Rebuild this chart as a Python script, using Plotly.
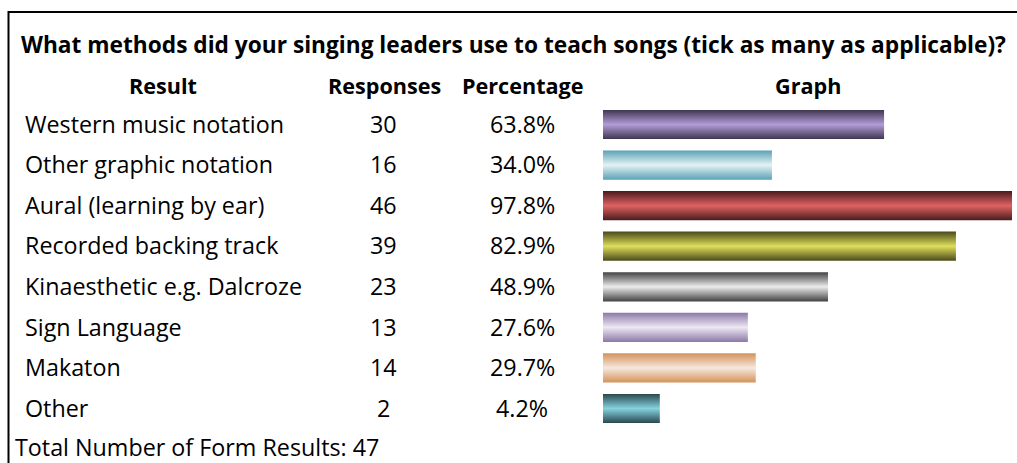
import plotly.graph_objects as go

# ---- data ----
results = ["Western music notation", "Other graphic notation", "Aural (learning by ear)",
           "Recorded backing track", "Kinaesthetic e.g. Dalcroze", "Sign Language",
           "Makaton", "Other"]
responses = [30, 16, 46, 39, 23, 13, 14, 2]
percentages = [63.8, 34.0, 97.8, 82.9, 48.9, 27.6, 29.7, 4.2]
total_results = 47
title = "What methods did your singing leaders use to teach songs (tick as many as applicable)?"
headers = ["Result", "Responses", "Percentage", "Graph"]

# ---- styles ----
W, H = 1017, 463
edge_colors = ["#3e3550", "#5aa2b3", "#4a1b1d", "#4a4a1a", "#424242", "#8c78a8", "#d59259", "#2a464e"]
mid_colors = ["#b49cd8", "#e4f2f5", "#e06262", "#dede5c", "#ececec", "#ede8f2", "#f6e7df", "#84d3de"]
BAR_BASE = -10.9      # visual offset of the bar origin
HALF = 0.36           # bar half thickness (row units)
FONT = "Open Sans"
BODY = 23.3
HEAD = 21.6
TITLE = 22.7

fig = go.Figure()
for i, (p, e, m) in enumerate(zip(percentages, edge_colors, mid_colors)):
    fig.add_trace(go.Scatter(
        x=[BAR_BASE, p, p, BAR_BASE, BAR_BASE],
        y=[i - HALF, i - HALF, i + HALF, i + HALF, i - HALF],
        mode="lines", line=dict(width=0), fill="toself",
        fillgradient=dict(type="vertical",
                          colorscale=[[0, e], [0.5, m], [1, e]]),
        hoverinfo="skip", showlegend=False))

def py(pix):
    return 1 - pix / H

def px(pix):
    return pix / W

ann = []
ann.append(dict(x=px(19), y=py(44), xref="paper", yref="paper", text="<b>%s</b>" % title,
                xanchor="left", yanchor="middle", showarrow=False,
                font=dict(family=FONT, size=TITLE, color="black")))
for h, cx in zip(headers, [163, 384, 523, 808]):
    ann.append(dict(x=px(cx), y=py(86), xref="paper", yref="paper", text="<b>%s</b>" % h,
                    xanchor="center", yanchor="middle", showarrow=False,
                    font=dict(family=FONT, size=HEAD, color="black")))
for i, (r, n, p) in enumerate(zip(results, responses, percentages)):
    ann.append(dict(x=px(23), y=i - 0.02, xref="paper", yref="y", text=r, xanchor="left",
                    yanchor="middle", showarrow=False, font=dict(family=FONT, size=BODY, color="black")))
    ann.append(dict(x=px(383), y=i - 0.02, xref="paper", yref="y", text=str(n), xanchor="center",
                    yanchor="middle", showarrow=False, font=dict(family=FONT, size=BODY, color="black")))
    ann.append(dict(x=px(522), y=i - 0.02, xref="paper", yref="y", text="%.1f%%" % p, xanchor="center",
                    yanchor="middle", showarrow=False, font=dict(family=FONT, size=BODY, color="black")))
ann.append(dict(x=px(13), y=py(447), xref="paper", yref="paper",
                text="Total Number of Form Results: %d" % total_results,
                xanchor="left", yanchor="middle", showarrow=False,
                font=dict(family=FONT, size=BODY, color="black")))

row_px = 40.57
y_top = -124.5 / row_px
y_bot = 7 + (H - 408.5) / row_px

fig.update_layout(
    width=W, height=H, margin=dict(l=0, r=0, t=0, b=0),
    paper_bgcolor="white", plot_bgcolor="white",
    xaxis=dict(domain=[603 / W, 1012 / W], range=[BAR_BASE, 97.8], visible=False, fixedrange=True),
    yaxis=dict(domain=[0, 1], range=[y_bot, y_top], visible=False, fixedrange=True),
    annotations=ann,
    shapes=[
        dict(type="line", xref="paper", yref="paper", x0=px(8), x1=1.0, y0=py(12), y1=py(12),
             line=dict(color="black", width=2)),
        dict(type="line", xref="paper", yref="paper", x0=px(8.5), x1=px(8.5), y0=py(11), y1=0,
             line=dict(color="black", width=2)),
    ],
)
fig.write_html("out.html")
